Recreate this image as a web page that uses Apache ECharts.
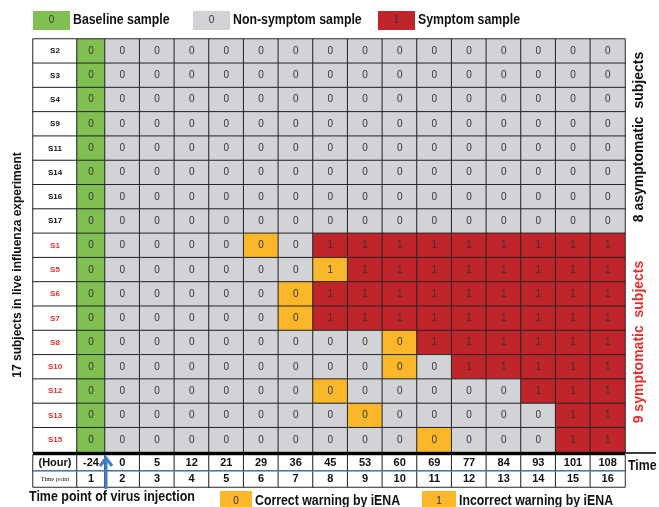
<!DOCTYPE html>
<html><head><meta charset="utf-8">
<script src="https://cdn.jsdelivr.net/npm/echarts@6/dist/echarts.min.js"></script>
<style>html,body{margin:0;padding:0;background:#fff}#chart{width:659px;height:507px}</style>
</head><body><div id="chart"></div>
<script>
// Subjects, top to bottom
const subjects = ['S2','S3','S4','S9','S11','S14','S16','S17','S1','S5','S6','S7','S8','S10','S12','S13','S15'];
const symptomaticSubjects = ['S1','S5','S6','S7','S8','S10','S12','S13','S15'];
// Sampling times
const hours = [-24, 0, 5, 12, 21, 29, 36, 45, 53, 60, 69, 77, 84, 93, 101, 108];
const timePoints = [1, 2, 3, 4, 5, 6, 7, 8, 9, 10, 11, 12, 13, 14, 15, 16];
// Symptom state per subject and time point (0 = no symptom, 1 = symptom)
const sampleValues = [
  [0,0,0,0,0,0,0,0,0,0,0,0,0,0,0,0], // S2
  [0,0,0,0,0,0,0,0,0,0,0,0,0,0,0,0], // S3
  [0,0,0,0,0,0,0,0,0,0,0,0,0,0,0,0], // S4
  [0,0,0,0,0,0,0,0,0,0,0,0,0,0,0,0], // S9
  [0,0,0,0,0,0,0,0,0,0,0,0,0,0,0,0], // S11
  [0,0,0,0,0,0,0,0,0,0,0,0,0,0,0,0], // S14
  [0,0,0,0,0,0,0,0,0,0,0,0,0,0,0,0], // S16
  [0,0,0,0,0,0,0,0,0,0,0,0,0,0,0,0], // S17
  [0,0,0,0,0,0,0,1,1,1,1,1,1,1,1,1], // S1
  [0,0,0,0,0,0,0,1,1,1,1,1,1,1,1,1], // S5
  [0,0,0,0,0,0,0,1,1,1,1,1,1,1,1,1], // S6
  [0,0,0,0,0,0,0,1,1,1,1,1,1,1,1,1], // S7
  [0,0,0,0,0,0,0,0,0,0,1,1,1,1,1,1], // S8
  [0,0,0,0,0,0,0,0,0,0,0,1,1,1,1,1], // S10
  [0,0,0,0,0,0,0,0,0,0,0,0,0,1,1,1], // S12
  [0,0,0,0,0,0,0,0,0,0,0,0,0,0,1,1], // S13
  [0,0,0,0,0,0,0,0,0,0,0,0,0,0,1,1]  // S15
];
// Time point of the iENA early warning (null = none)
const warningPoints = [null,null,null,null,null,null,null,null, 6, 8, 7, 7, 10, 10, 8, 9, 11];

const COLORS = {
  baseline: '#80bf52',
  normal: '#d1d3d6',
  symptom: '#bf252b',
  warning: '#fab72a',
  border: '#262626',
  arrow: '#3d7ec6',
  redText: '#e0312e'
};
const SANS = '"Liberation Sans", Arial, sans-serif';

// grid geometry
const TOP = 39, H = 413, BTOP = 455, BH = 32;
const LBL_L = 33, LBL_W = 44, BASE_L = 77, BASE_W = 28, DATA_L = 105, DATA_W = 520;
const RIGHT = DATA_L + DATA_W;

const colsRest = timePoints.slice(1);

function cellColor(r, c) {
  if (warningPoints[r] === timePoints[c]) return COLORS.warning;
  if (c === 0) return COLORS.baseline;
  return sampleValues[r][c] === 1 ? COLORS.symptom : COLORS.normal;
}

// subject name column
const labelData = subjects.map((s, r) => ({
  value: [0, r, r],
  label: { color: symptomaticSubjects.includes(s) ? COLORS.redText : '#111' }
}));
// baseline column
const baseData = subjects.map((s, r) => ({
  value: [0, r, sampleValues[r][0]],
  itemStyle: { color: cellColor(r, 0) }
}));
// remaining time points
const restData = [];
subjects.forEach((s, r) => {
  for (let c = 1; c < timePoints.length; c++) {
    restData.push({ value: [c - 1, r, sampleValues[r][c]], itemStyle: { color: cellColor(r, c) } });
  }
});
// bottom time table
const tblNames = ['(Hour)', 'Time point'];
const tblLabelData = [{ value: [0, 0, 0] }, { value: [0, 1, 1], label: { fontSize: 6.5, fontFamily: '"Liberation Serif", serif', fontWeight: 'normal' } }];
const tblBaseData = [{ value: [0, 0, hours[0]] }, { value: [0, 1, timePoints[0]] }];
const tblRestData = [];
for (let c = 1; c < timePoints.length; c++) {
  tblRestData.push({ value: [c - 1, 0, hours[c]] });
  tblRestData.push({ value: [c - 1, 1, timePoints[c]] });
}

function grid(left, width, top, height) { return { left, width, top, height, containLabel: false }; }
function cat(data, gridIndex, inverse) { return { type: 'category', data, show: false, inverse: !!inverse, gridIndex }; }

function heat(idx, data, label, itemStyle) {
  return {
    type: 'heatmap', xAxisIndex: idx, yAxisIndex: idx, data, silent: true,
    emphasis: { disabled: true },
    itemStyle: Object.assign({ borderColor: COLORS.border, borderWidth: 1 }, itemStyle || {}),
    label: Object.assign({ show: true, fontFamily: SANS, fontSize: 10, color: '#333' }, label)
  };
}

// condensed bold text (horizontal squeeze)
function ctext(x, y, text, size, sx, fill) {
  return {
    type: 'text', x, y, scaleX: sx,
    style: { text, font: 'bold ' + size + 'px ' + SANS, fill: fill || '#111', align: 'left', verticalAlign: 'middle' }
  };
}

function legendBox(x, y, w, h, color, txt, name, size, sx) {
  return [
    { type: 'rect', shape: { x, y, width: w, height: h }, style: { fill: color } },
    { type: 'text', x: x + w / 2, y: y + h / 2, style: { text: txt, font: '10px ' + SANS, fill: '#333', align: 'center', verticalAlign: 'middle' } },
    ctext(x + w + 3, y + h / 2, name, size, sx)
  ];
}

const chart = echarts.init(document.getElementById('chart'), null, { renderer: 'canvas' });
chart.setOption({
  animation: false,
  backgroundColor: '#fff',
  grid: [
    grid(LBL_L, LBL_W, TOP, H), grid(BASE_L, BASE_W, TOP, H), grid(DATA_L, DATA_W, TOP, H),
    grid(LBL_L, LBL_W, BTOP, BH), grid(BASE_L, BASE_W, BTOP, BH), grid(DATA_L, DATA_W, BTOP, BH)
  ],
  xAxis: [
    cat(['name'], 0), cat([timePoints[0]], 1), cat(colsRest, 2),
    cat(['name'], 3), cat([timePoints[0]], 4), cat(colsRest, 5)
  ],
  yAxis: [
    cat(subjects, 0, true), cat(subjects, 1, true), cat(subjects, 2, true),
    cat(tblNames, 3, true), cat(tblNames, 4, true), cat(tblNames, 5, true)
  ],
  series: [
    heat(0, labelData, { fontSize: 8, fontWeight: 'bold', formatter: p => subjects[p.value[1]] }, { color: '#fff' }),
    heat(1, baseData, {}),
    heat(2, restData, {}),
    heat(3, tblLabelData, { fontSize: 11, fontWeight: 'bold', color: '#111', formatter: p => tblNames[p.value[1]] }, { color: '#fff' }),
    heat(4, tblBaseData, { fontSize: 11, fontWeight: 'bold', color: '#111', formatter: p => String(p.value[2]) }, { color: '#fff' }),
    heat(5, tblRestData, { fontSize: 11, fontWeight: 'bold', color: '#111', formatter: p => String(p.value[2]) }, { color: '#fff' })
  ],
  graphic: [].concat(
    legendBox(33, 11, 37, 19, COLORS.baseline, '0', 'Baseline sample', 14, 0.88),
    legendBox(193, 11, 37, 19, COLORS.normal, '0', 'Non-symptom sample', 14, 0.88),
    legendBox(378, 11, 37, 19, COLORS.symptom, '1', 'Symptom sample', 14, 0.88),
    legendBox(220, 491, 32, 20, COLORS.warning, '0', 'Correct warning by iENA', 14, 0.88),
    legendBox(422, 491, 34, 20, COLORS.warning, '1', 'Incorrect warning by iENA', 14, 0.88),
    [
      // heavy rule between the sample grid and the time table
      { type: 'line', shape: { x1: LBL_L, y1: 453.5, x2: RIGHT, y2: 453.5 }, style: { stroke: '#000', lineWidth: 3 }, z: 10 },
      { type: 'line', shape: { x1: RIGHT, y1: 453, x2: 656, y2: 453 }, style: { stroke: '#000', lineWidth: 1.5 }, z: 10 },
      // blue rule between hour row and time point row
      { type: 'line', shape: { x1: LBL_L, y1: BTOP + BH / 2, x2: RIGHT, y2: BTOP + BH / 2 }, style: { stroke: '#5b9bd5', lineWidth: 1.2 }, z: 10 },
      ctext(628, 466, 'Time', 14, 0.88),
      // virus injection arrow
      { type: 'line', shape: { x1: DATA_L + 1, y1: 489, x2: DATA_L + 1, y2: 458 }, style: { stroke: COLORS.arrow, lineWidth: 3 }, z: 11 },
      { type: 'polyline', shape: { points: [[DATA_L - 5, 466], [DATA_L + 1, 458], [DATA_L + 7, 466]] }, style: { stroke: COLORS.arrow, lineWidth: 3, fill: null }, z: 11 },
      ctext(29, 497, 'Time point of virus injection', 14, 0.89),
      // axis titles
      { type: 'text', x: 18, y: 265, rotation: Math.PI / 2, style: { text: '17 subjects in live influenza experiment', font: 'bold 12px ' + SANS, fill: '#111', align: 'center', verticalAlign: 'middle' } },
      { type: 'text', x: 639, y: 137, rotation: Math.PI / 2, style: { text: '8 asymptomatic  subjects', font: 'bold 14px ' + SANS, fill: '#111', align: 'center', verticalAlign: 'middle' } },
      { type: 'text', x: 639, y: 342, rotation: Math.PI / 2, style: { text: '9 symptomatic  subjects', font: 'bold 14px ' + SANS, fill: COLORS.redText, align: 'center', verticalAlign: 'middle' } }
    ]
  )
});
</script></body></html>
